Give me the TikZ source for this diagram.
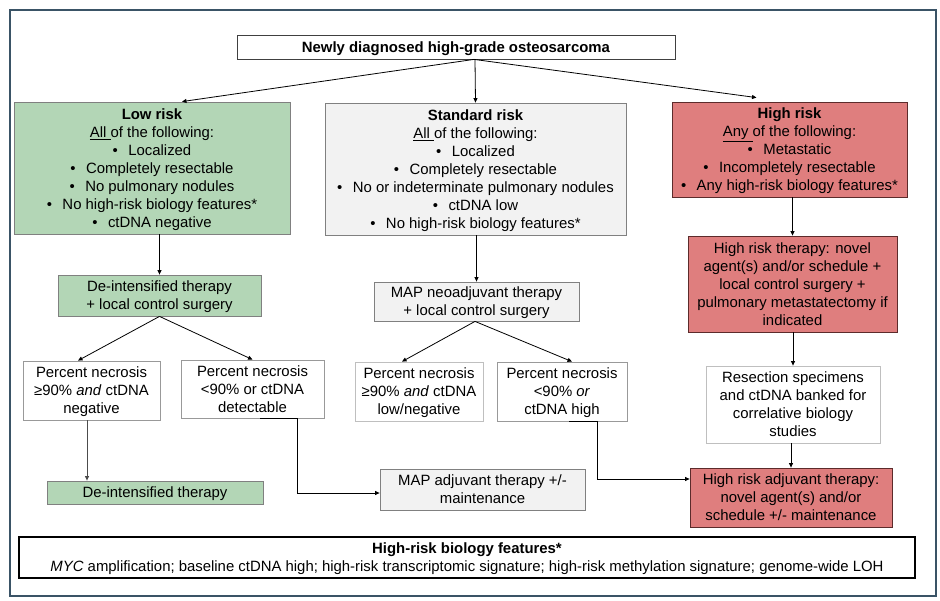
\documentclass[tikz,border=0pt]{standalone}
\usepackage{fontspec}
\setmainfont{Liberation Sans}
\usetikzlibrary{arrows.meta}
\definecolor{lowgreen}{HTML}{B3D6B6}
\definecolor{stdgray}{HTML}{F2F2F2}
\definecolor{highred}{HTML}{DF7E7E}
\definecolor{highedge}{HTML}{5C2B2B}
\definecolor{frameblue}{HTML}{3A5366}
\newcommand{\bul}{\textbullet\hspace{0.7em}}
\begin{document}
\begin{tikzpicture}[x=1pt,y=-1pt,>={Triangle[length=4.5pt,width=4pt]},
  every node/.style={font=\fontsize{14.9}{18}\selectfont,align=center,inner sep=0pt,text depth=0pt},
  sz/.style 2 args={minimum width=#1pt,minimum height=#2pt},
  lowbox/.style={draw=gray,fill=lowgreen,line width=0.8pt},
  stdbox/.style={draw=gray,fill=stdgray,line width=0.8pt},
  highbox/.style={draw=highedge,fill=highred,line width=0.8pt},
  pnbox/.style={draw=gray!80,fill=white,line width=0.8pt},
  link/.style={->,line width=0.8pt}]
\useasboundingbox (0,0) rectangle (940,601);
\draw[frameblue,line width=1.3pt] (10,10) rectangle (936,596);
\node[draw=black!75,line width=0.8pt,sz={438}{24}] (title) at (456,47) {\textbf{Newly diagnosed high-grade osteosarcoma}};
\node[lowbox,sz={276}{132}] (low) at (152,168) {\textbf{Low risk}\\\underline{All\ }of the following:\\\bul Localized\\\bul Completely resectable\\\bul No pulmonary nodules\\\bul No high-risk biology features*\\\bul ctDNA negative};
\node[stdbox,sz={301}{132}] (std) at (475.5,169) {\textbf{Standard risk}\\\underline{All\ }of the following:\\\bul Localized\\\bul Completely resectable\\\bul No or indeterminate pulmonary nodules\\\bul ctDNA low\\\bul No high-risk biology features*};
\node[highbox,sz={235}{95}] (high) at (789.5,149.5) {\textbf{High risk}\\\underline{Any\ }of the following:\\\bul Metastatic\\\bul Incompletely resectable\\\bul Any high-risk biology features*};
\node[lowbox,sz={203}{41}] (deint) at (159.5,295.5) {De-intensified therapy\\+ local control surgery};
\node[stdbox,sz={205}{39}] (mapneo) at (476.5,301.5) {MAP neoadjuvant therapy\\+ local control surgery};
\node[highbox,sz={209}{96}] (hrther) at (792.5,284) {High risk therapy: novel\\agent(s) and/or schedule +\\local control surgery +\\pulmonary metastatectomy if\\indicated};
\node[pnbox,sz={137}{59}] (pnA) at (91.5,390.5) {Percent necrosis\\≥90\% \textit{and} ctDNA\\negative};
\node[pnbox,sz={143}{58}] (pnB) at (252.5,389) {Percent necrosis\\<90\% or ctDNA\\detectable};
\node[pnbox,draw=gray!50,sz={128}{59}] (pnC) at (419,391.5) {Percent necrosis\\≥90\% \textit{and} ctDNA\\low/negative};
\node[pnbox,sz={130}{59}] (pnD) at (562,391.5) {Percent necrosis\\<90\% \textit{or}\\ctDNA high};
\node[pnbox,draw=gray!50,sz={174}{77}] (resect) at (793,404.5) {Resection specimens\\and ctDNA banked for\\correlative biology\\studies};
\node[lowbox,sz={216}{23}] (deint2) at (155,492.5) {De-intensified therapy};
\node[stdbox,sz={205}{41}] (mapadj) at (482.5,489.5) {MAP adjuvant therapy +/-\\maintenance};
\node[highbox,sz={202}{59}] (hradj) at (791,497.5) {High risk adjuvant therapy:\\novel agent(s) and/or\\schedule +/- maintenance};
\node[draw=black,line width=1.6pt,sz={896}{41}] (bio) at (467,557.5) {\textbf{High-risk biology features*}\\\textit{MYC} amplification; baseline ctDNA high; high-risk transcriptomic signature; high-risk methylation signature; genome-wide LOH};
\draw[link] ([xshift=18pt]title.south) -- ([xshift=30pt]low.north);
\draw[link] ([xshift=19pt]title.south) -- (std.north);
\draw[link] ([xshift=18pt]title.south) -- ([xshift=-33pt,yshift=4pt]high.north);
\draw[link] (deint.north |- low.south) -- (deint.north);
\draw[link] (mapneo.north |- std.south) -- (mapneo.north);
\draw[link] (hrther.north |- high.south) -- (hrther.north);
\draw[link] (resect.north |- hrther.south) -- (resect.north);
\draw[link] (hradj.north |- resect.south) -- (hradj.north);
\draw[link] (deint.south) -- ([xshift=-13.5pt]pnA.north);
\draw[link] (deint.south) -- (pnB.north);
\draw[link] ([xshift=-1.5pt]mapneo.south) -- ([xshift=-17pt]pnC.north);
\draw[link] ([xshift=-1.5pt]mapneo.south) -- ([xshift=10pt]pnD.north);
\draw[link,black!70] ([xshift=-4.5pt]pnA.south) -- ([xshift=-4.5pt]pnA.south |- deint2.north);
\draw[link] ([xshift=7.5pt]pnB.south) -- ++(37,0) |- ([yshift=-3.5pt]mapadj.west);
\draw[link] ([xshift=7pt]pnD.south) -- ++(28,0) |- ([yshift=18.5pt]hradj.west);
\end{tikzpicture}
\end{document}
